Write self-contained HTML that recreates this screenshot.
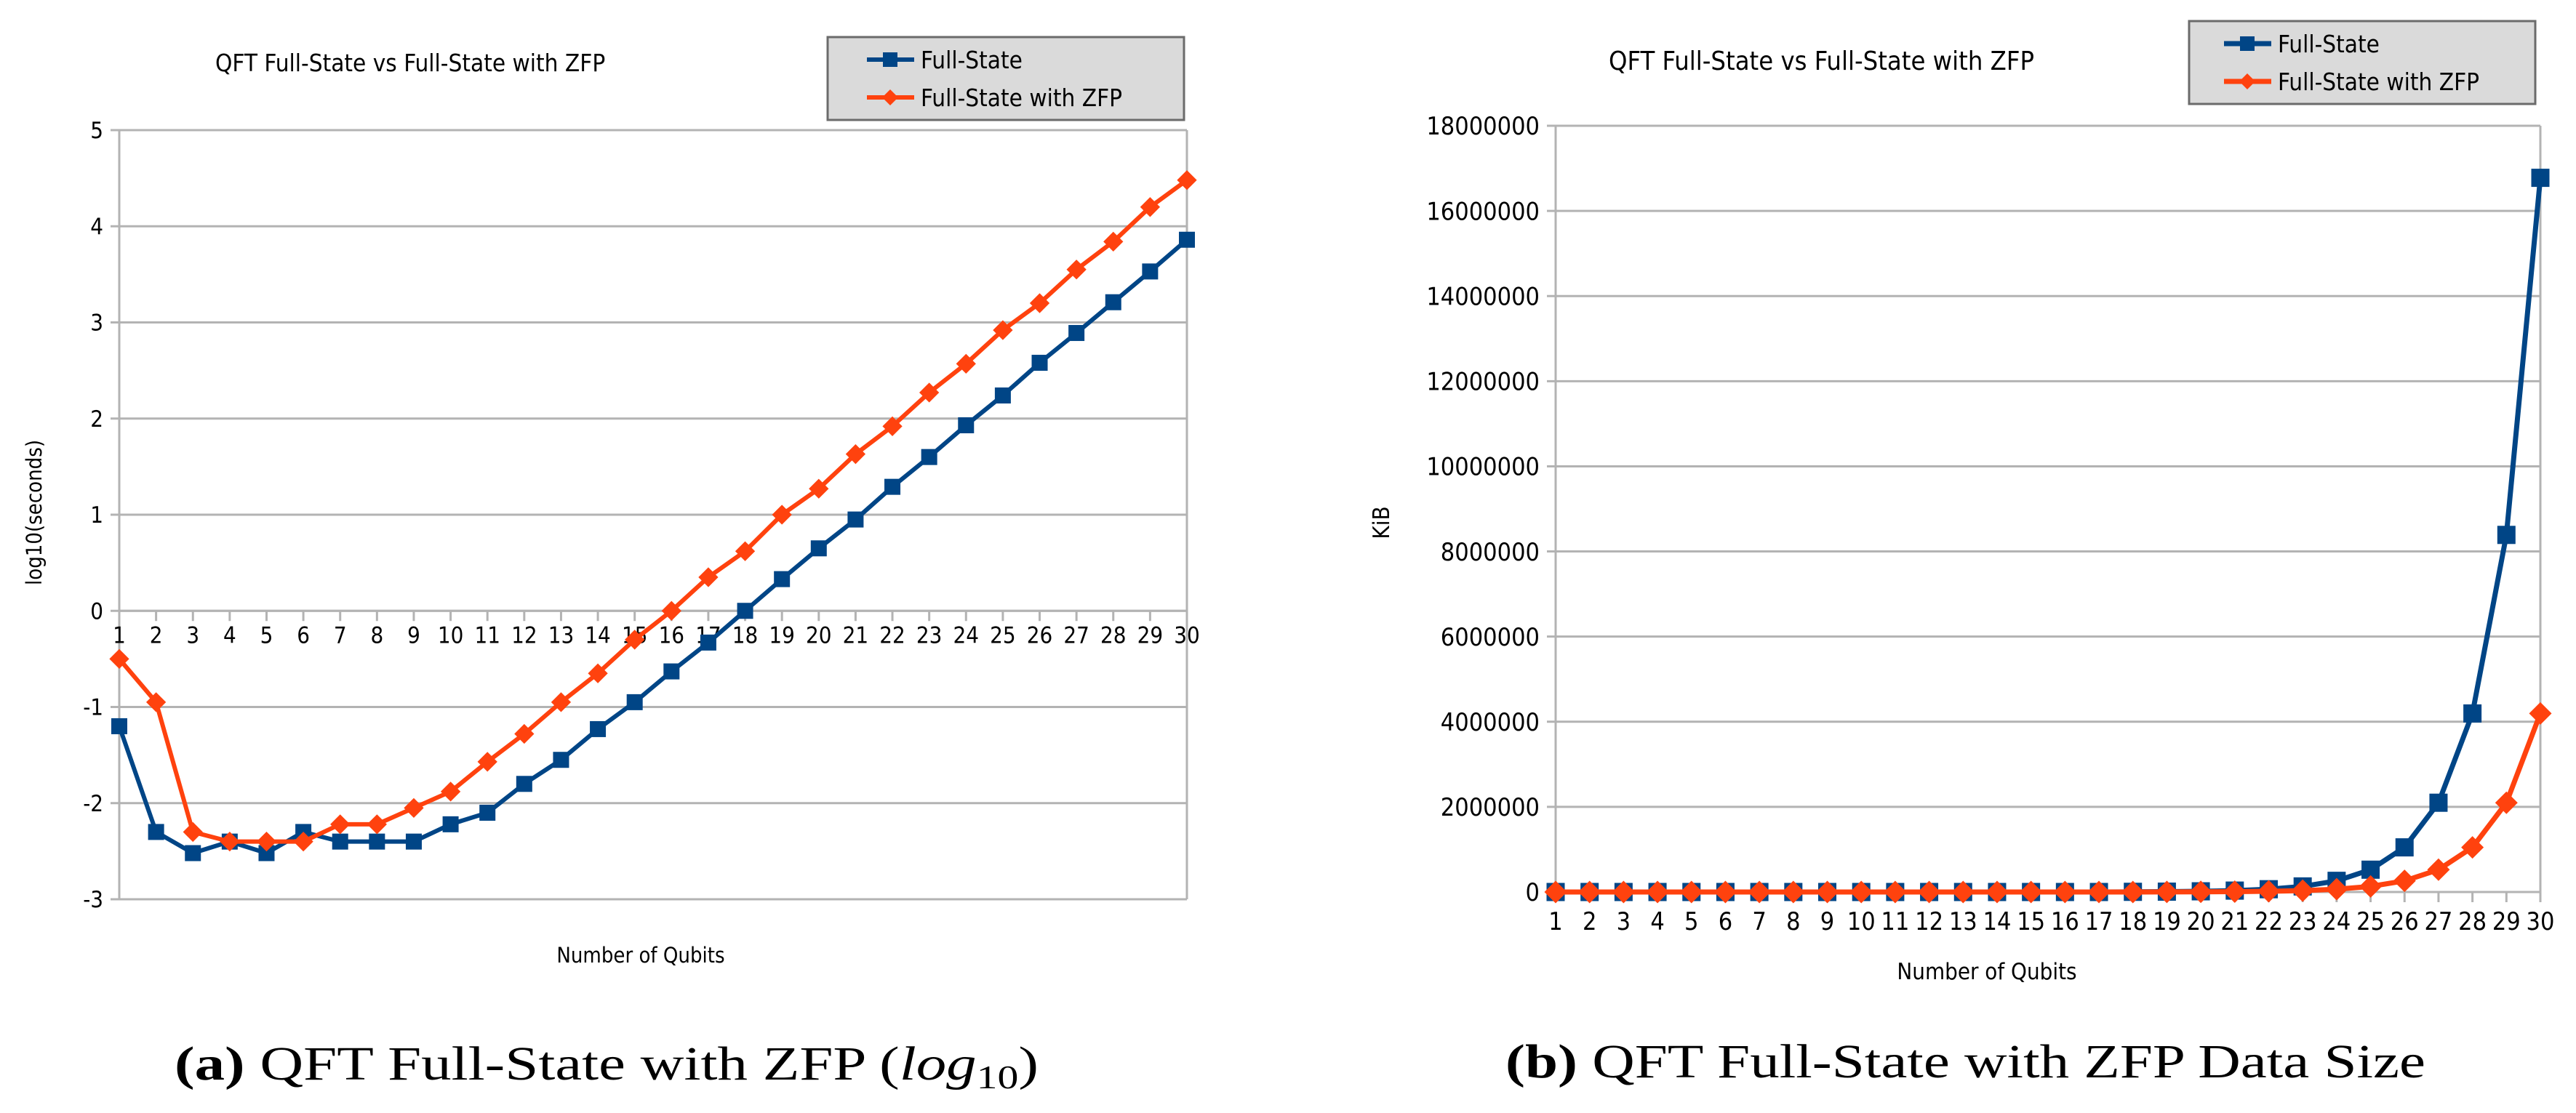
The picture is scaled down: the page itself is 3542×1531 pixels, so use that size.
<!DOCTYPE html>
<html><head><meta charset="utf-8"><style>
html,body{margin:0;padding:0;background:#fff;width:3542px;height:1531px;overflow:hidden}
svg{display:block}
text{font-family:"DejaVu Sans Condensed","Liberation Sans",sans-serif;fill:#000}
.cap{font-family:"Liberation Serif",serif}
</style></head><body>
<svg id="svg" width="3542" height="1531" viewBox="0 0 3542 1531" xmlns="http://www.w3.org/2000/svg"></svg>
<script>
const qubits = [1,2,3,4,5,6,7,8,9,10,11,12,13,14,15,16,17,18,19,20,21,22,23,24,25,26,27,28,29,30];
const timeFull = [-1.2,-2.3,-2.52,-2.4,-2.52,-2.3,-2.4,-2.4,-2.4,-2.22,-2.1,-1.8,-1.55,-1.23,-0.95,-0.63,-0.33,0,0.33,0.65,0.95,1.29,1.6,1.93,2.24,2.58,2.89,3.21,3.53,3.86];
const timeZfp = [-0.5,-0.95,-2.3,-2.4,-2.4,-2.4,-2.22,-2.22,-2.05,-1.88,-1.57,-1.28,-0.95,-0.65,-0.3,0,0.35,0.62,1.0,1.27,1.63,1.92,2.27,2.57,2.92,3.2,3.55,3.84,4.2,4.48];
const sizeFullK = [0,0,0,0,0,0,0,0,0,0,0,0,0,0,0,0,0,4096,8192,16384,32768,65536,131072,262144,524288,1048576,2097152,4194304,8388608,16777216];
const sizeZfpK = [0,0,0,0,0,0,0,0,0,0,0,0,0,0,0,0,0,1024,2048,4096,8192,16384,32768,65536,131072,262144,524288,1048576,2097152,4194304];
const timeTicks = [-3,-2,-1,0,1,2,3,4,5];
const sizeTicks = [0,2000000,4000000,6000000,8000000,10000000,12000000,14000000,16000000,18000000];

const NS="http://www.w3.org/2000/svg";
const svg=document.getElementById('svg');
function mk(tag,attrs,parent){const e=document.createElementNS(NS,tag);for(const k in attrs)e.setAttribute(k,attrs[k]);(parent||svg).appendChild(e);return e;}
const BLUE="#004586", ORANGE="#ff420e", GRID="#b3b3b3";

function chart(o){
  const g=mk('g',{});
  
  
  const xs=i=>o.x0+(o.x1-o.x0)*(i)/(qubits.length-1);
  const ys=v=>o.y1-(v-o.ymin)/(o.ymax-o.ymin)*(o.y1-o.y0);
  o.ticks.forEach(t=>{
    const l=mk('line',{x1:o.x0-12,x2:o.x1,y1:ys(t),y2:ys(t),stroke:GRID,'stroke-width':3},g);
    
    
    const tx=mk('text',{x:o.x0-22,y:ys(t)+o.tf*0.36,'font-size':o.tf,'text-anchor':'end'},g);
    
    
    tx.textContent=t;
  });
  mk('line',{x1:o.x0,x2:o.x0,y1:o.y0,y2:o.y1,stroke:GRID,'stroke-width':3},g);
  mk('line',{x1:o.x1,x2:o.x1,y1:o.y0,y2:o.y1,stroke:GRID,'stroke-width':3},g);
  const ay=ys(o.axisAt);
  mk('line',{x1:o.x0,x2:o.x1,y1:ay,y2:ay,stroke:GRID,'stroke-width':3},g);
  qubits.forEach((q,i)=>{
    mk('line',{x1:xs(i),x2:xs(i),y1:ay,y2:ay+14,stroke:GRID,'stroke-width':3},g);
    const tx=mk('text',{x:xs(i),y:ay+o.xlo,'font-size':o.tf,'text-anchor':'middle'},g);
    
    
    tx.textContent=q;
  });
  [[o.s1,BLUE,'sq','series-full-state'],[o.s2,ORANGE,'di','series-full-state-zfp']].forEach(([d,c,m,nm])=>{
    const sg=mk('g',{},g);
    
    
    mk('polyline',{points:d.map((v,i)=>xs(i)+','+ys(v)).join(' '),fill:'none',stroke:c,'stroke-width':o.lw,'stroke-linejoin':'round'},sg);
    d.forEach((v,i)=>{
      const x=xs(i),y=ys(v);let p;
      if(m==='sq'){const s=o.ms;p=mk('rect',{x:x-s/2,y:y-s/2,width:s,height:s,fill:c},sg);}
      else{const s=o.ms*0.62;p=mk('polygon',{points:`${x},${y-s} ${x+s},${y} ${x},${y+s} ${x-s},${y}`,fill:c},sg);}
      
      
    });
  });
  const t=mk('text',{x:o.tx,y:o.ty,'font-size':o.titleF},g);
  
  
  t.textContent='QFT Full-State vs Full-State with ZFP';
  const L=o.leg;
  const lg=mk('g',{},g);
  
  
  mk('rect',{x:L.x,y:L.y,width:L.w,height:L.h,fill:'#dadada',stroke:'#6b6b6b','stroke-width':3},lg);
  [['Full-State',BLUE,'sq',L.e1],['Full-State with ZFP',ORANGE,'di',L.e2]].forEach(([lab,c,m,ey])=>{
    const eg=mk('g',{},lg);
    
    
    mk('line',{x1:L.lx,x2:L.lx+65,y1:ey,y2:ey,stroke:c,'stroke-width':o.lw},eg);
    const cx=L.lx+32;
    if(m==='sq')mk('rect',{x:cx-10,y:ey-10,width:20,height:20,fill:c},eg);
    else mk('polygon',{points:`${cx},${ey-11} ${cx+11},${ey} ${cx},${ey+11} ${cx-11},${ey}`,fill:c},eg);
    const tx=mk('text',{x:L.lx+74,y:ey+o.lf*0.36,'font-size':o.lf},eg);
    tx.textContent=lab;
  });
  const xt=mk('text',{x:o.xtx,y:o.xty,'font-size':o.axF,'text-anchor':'middle'},g);
  
  
  xt.textContent='Number of Qubits';
  const yt=mk('text',{x:0,y:0,'font-size':o.axF,'text-anchor':'middle',transform:`translate(${o.ytx},${o.yty}) rotate(-90)`},g);
  
  
  yt.textContent=o.ylab;
}

chart({name:'chart-time-log10',x0:164,x1:1632,y0:179,y1:1237,ymin:-3,ymax:5,ticks:timeTicks,axisAt:0,
  s1:timeFull,s2:timeZfp,tf:31,xlo:44,lw:6,ms:22,
  tx:296,ty:98,titleF:33,leg:{x:1138,y:51,w:490,h:114,e1:82,e2:134,lx:1192},lf:33,
  xtx:881,xty:1324,axF:29,ytx:57,yty:705,ylab:'log10(seconds)'});
chart({name:'chart-data-size',x0:2139,x1:3493,y0:173,y1:1227,ymin:0,ymax:18000000,ticks:sizeTicks,axisAt:0,
  s1:sizeFullK,s2:sizeZfpK,tf:34,xlo:52,lw:7,ms:25,
  tx:2212,ty:96,titleF:36,leg:{x:3010,y:29,w:476,h:114,e1:60,e2:112,lx:3058},lf:33,
  xtx:2732,xty:1347,axF:31,ytx:1910,yty:719,ylab:'KiB'});

const c1=mk('text',{x:240,y:1485,'font-size':66,class:'cap',textLength:1188,lengthAdjust:'spacingAndGlyphs'});


c1.innerHTML='<tspan font-weight="bold">(a)</tspan> QFT Full-State with ZFP (<tspan font-style="italic">log</tspan><tspan font-size="46" dy="12">10</tspan><tspan dy="-12">)</tspan>';
const c2=mk('text',{x:2070,y:1482,'font-size':66,class:'cap',textLength:1265,lengthAdjust:'spacingAndGlyphs'});


c2.innerHTML='<tspan font-weight="bold">(b)</tspan> QFT Full-State with ZFP Data Size';
</script>
</body></html>
